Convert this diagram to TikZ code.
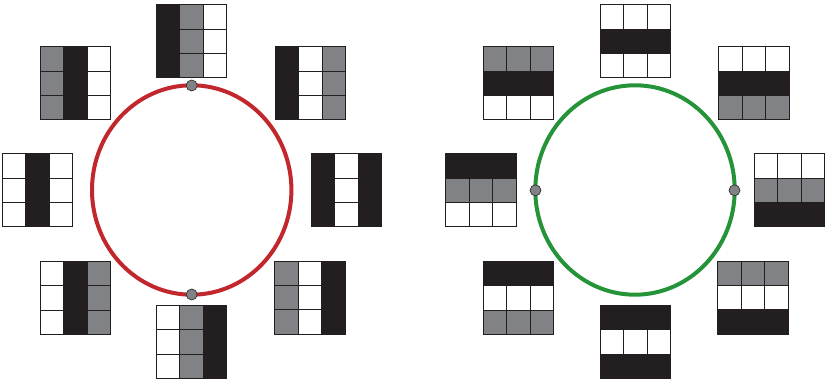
\documentclass[tikz,border=0pt]{standalone}
\usepackage{tikz}
\usetikzlibrary{positioning,calc}
\definecolor{cblack}{RGB}{35,31,32}
\definecolor{cgray}{RGB}{128,130,133}
\definecolor{cred}{RGB}{193,39,45}
\definecolor{cgreen}{RGB}{37,147,56}
\tikzset{
  gridline/.style={draw=cblack,line width=0.65pt},
  ring/.style={line width=4pt},
  dot/.style={circle,draw=black!80,fill=cgray,line width=0.7pt,minimum size=11pt,inner sep=0pt}
}
% 3x3 grid, colours of the columns (left to right)
\newcommand{\colgrid}[2]{%
  \begin{scope}[shift={(#1)},shift={(-35.25,-36.5)}]
    \foreach \c [count=\i from 0] in {#2}
      \fill[\c] (23.5*\i,0) rectangle ++(23.5,73);
    \foreach \i in {1,2} {
      \draw[gridline] (23.5*\i,0) -- ++(0,73);
      \draw[gridline] (0,24.333*\i) -- ++(70.5,0);
    }
    \draw[gridline] (0,0) rectangle (70.5,73);
  \end{scope}}
% 3x3 grid, colours of the rows (top to bottom)
\newcommand{\rowgrid}[2]{%
  \begin{scope}[shift={(#1)},shift={(-35.25,-36.5)}]
    \foreach \c [count=\i from 1] in {#2}
      \fill[\c] (0,73-24.333*\i) rectangle ++(70.5,24.333);
    \foreach \i in {1,2} {
      \draw[gridline] (23.5*\i,0) -- ++(0,73);
      \draw[gridline] (0,24.333*\i) -- ++(70.5,0);
    }
    \draw[gridline] (0,0) rectangle (70.5,73);
  \end{scope}}

\begin{document}
\begin{tikzpicture}[x=1pt,y=1pt]
  \useasboundingbox (0,0) rectangle (830,382);

  % left: columns
  \draw[ring,cred] (191.7,192) ellipse [x radius=99.7,y radius=104.7];
  \colgrid{191.5,341}{cblack,cgray,white}
  \colgrid{75.3,299}{cgray,cblack,white}
  \colgrid{310.5,299}{cblack,white,cgray}
  \colgrid{37.3,191.8}{white,cblack,white}
  \colgrid{346.3,191.8}{cblack,white,cblack}
  \colgrid{75.3,84.2}{white,cblack,cgray}
  \colgrid{309.7,84.4}{cgray,white,cblack}
  \colgrid{191.5,40.2}{white,cgray,cblack}
  \node[dot] (redtop) at (191.7,296.5) {};
  \node[dot] (redbot) at (191.7,87.5) {};

  % right: rows
  \draw[ring,cgreen] (635,192) ellipse [x radius=99.7,y radius=104.7];
  \rowgrid{635.3,341}{white,cblack,white}
  \rowgrid{518.5,299}{cgray,cblack,white}
  \rowgrid{753.8,299}{white,cblack,cgray}
  \rowgrid{480.8,191.8}{cblack,cgray,white}
  \rowgrid{789.5,191.8}{white,cgray,cblack}
  \rowgrid{518.5,84.2}{cblack,white,cgray}
  \rowgrid{752.8,84.4}{cgray,white,cblack}
  \rowgrid{635.3,40.2}{cblack,white,cblack}
  \node[dot] (greenleft) at (535.5,191.7) {};
  \node[dot] (greenright) at (734.5,191.7) {};
\end{tikzpicture}
\end{document}
